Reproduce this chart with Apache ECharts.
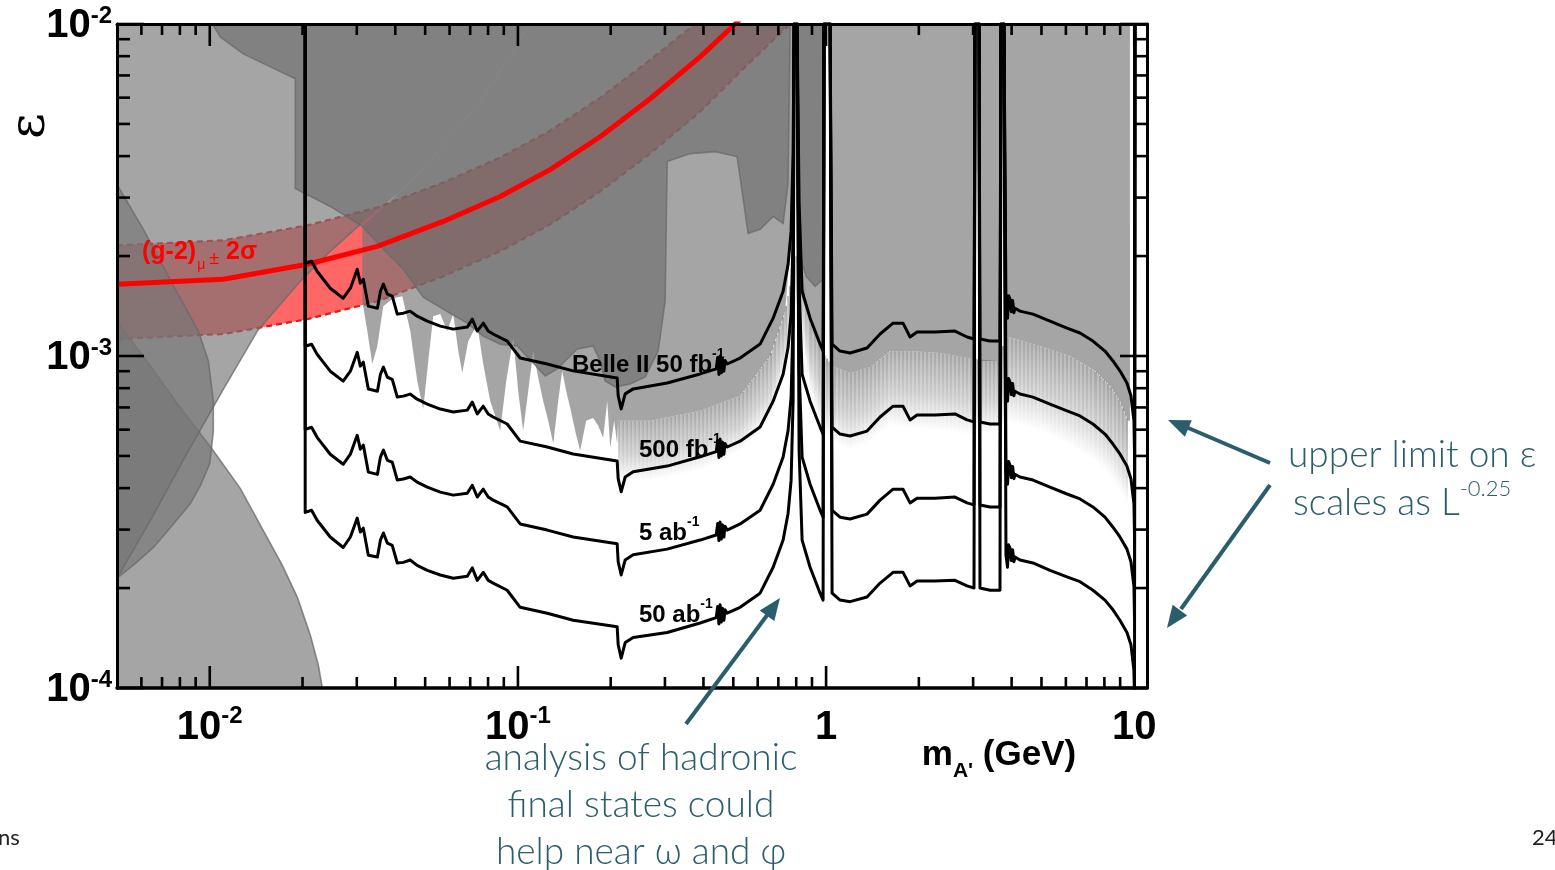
<!DOCTYPE html>
<html>
<head>
<meta charset="utf-8">
<script src="https://cdn.jsdelivr.net/npm/echarts/dist/echarts.min.js"></script>
<style>html,body{margin:0;padding:0;background:#fff}#c{width:1555px;height:870px}</style>
</head>
<body>
<div id="c"></div>
<script>
// ---------- axis ticks ----------
const xMajorTicks = [0.01, 0.1, 1, 10];
const xMinorTicks = [0.006,0.007,0.008,0.009,0.02,0.03,0.04,0.05,0.06,0.07,0.08,0.09,0.2,0.3,0.4,0.5,0.6,0.7,0.8,0.9,2,3,4,5,6,7,8,9];
const yMajorTicks = [1e-4, 1e-3, 1e-2];
const yMinorTicks = [2e-4,3e-4,4e-4,5e-4,6e-4,7e-4,8e-4,9e-4,2e-3,3e-3,4e-3,5e-3,6e-3,7e-3,8e-3,9e-3];

// ---------- Belle II sensitivity curves [mass GeV, epsilon] ----------
const curve50fb = [[0.0204,1e-2],[0.0204,1.902e-3],[0.0214,1.929e-3],[0.0223,1.800e-3],[0.0246,1.600e-3],[0.0271,1.493e-3],[0.0286,1.600e-3],[0.0297,1.763e-3],[0.0301,1.825e-3],[0.0308,1.657e-3],[0.0315,1.703e-3],[0.0327,1.413e-3],[0.0350,1.393e-3],[0.0358,1.567e-3],[0.0366,1.646e-3],[0.0377,1.535e-3],[0.0391,1.514e-3],[0.0406,1.337e-3],[0.0425,1.346e-3],[0.0447,1.365e-3],[0.0471,1.318e-3],[0.0508,1.273e-3],[0.0560,1.230e-3],[0.0617,1.205e-3],[0.0685,1.222e-3],[0.0711,1.291e-3],[0.0738,1.189e-3],[0.0772,1.256e-3],[0.0801,1.189e-3],[0.0831,1.165e-3],[0.0923,1.109e-3],[0.1017,9.86e-4],[0.1245,9.46e-4],[0.1511,9.02e-4],[0.2099,8.59e-4],[0.2115,7.59e-4],[0.2163,6.93e-4],[0.2229,7.69e-4],[0.2366,7.96e-4],[0.3050,8.29e-4],[0.3902,8.83e-4],[0.440,9.15e-4],[0.445,9.9e-4],[0.449,8.8e-4],[0.453,1.0e-3],[0.457,8.9e-4],[0.461,9.8e-4],[0.466,9.0e-4],[0.470,9.7e-4],[0.4775,9.46e-4],[0.5261,9.86e-4],[0.6108,1.086e-3],[0.6733,1.300e-3],[0.7254,1.567e-3],[0.7529,1.889e-3],[0.7700,2.373e-3],[0.7816,4.127e-3],[0.7874,1e-2],[0.8052,1e-2],[0.8173,2.920e-3],[0.8360,1.567e-3],[0.8873,1.300e-3],[0.9561,1.086e-3],[0.9779,1.035e-3],[0.9851,1e-2],[1.0304,1e-2],[1.0459,1.086e-3],[1.110,1.035e-3],[1.196,1.021e-3],[1.358,1.057e-3],[1.497,1.165e-3],[1.650,1.256e-3],[1.777,1.256e-3],[1.873,1.141e-3],[1.973,1.181e-3],[2.258,1.181e-3],[2.620,1.189e-3],[2.867,1.141e-3],[3.020,1.125e-3],[3.043,1e-2],[3.135,1e-2],[3.158,1.125e-3],[3.404,1.109e-3],[3.667,1.109e-3],[3.694,1e-2],[3.778,1e-2],[3.835,1.413e-3],[3.88,1.30e-3],[3.91,1.52e-3],[3.952,1.483e-3],[3.99,1.36e-3],[4.03,1.47e-3],[4.07,1.35e-3],[4.102,1.393e-3],[4.258,1.365e-3],[4.692,1.337e-3],[5.329,1.273e-3],[6.050,1.214e-3],[6.667,1.173e-3],[7.345,1.109e-3],[8.035,1.035e-3],[8.530,9.66e-4],[8.986,9.02e-4],[9.470,8.29e-4],[9.757,7.59e-4],[9.977,6.38e-4],[10.02,5.1e-4],[10.05,1e-2]];
const curve500fb = [[0.0204,1e-2],[0.0204,1.070e-3],[0.0214,1.085e-3],[0.0223,1.012e-3],[0.0246,9.00e-4],[0.0271,8.40e-4],[0.0286,9.00e-4],[0.0297,9.91e-4],[0.0301,1.026e-3],[0.0308,9.32e-4],[0.0315,9.58e-4],[0.0327,7.95e-4],[0.0350,7.83e-4],[0.0358,8.81e-4],[0.0366,9.26e-4],[0.0377,8.63e-4],[0.0391,8.51e-4],[0.0406,7.52e-4],[0.0425,7.57e-4],[0.0447,7.68e-4],[0.0471,7.41e-4],[0.0508,7.16e-4],[0.0560,6.92e-4],[0.0617,6.78e-4],[0.0685,6.87e-4],[0.0711,7.26e-4],[0.0738,6.69e-4],[0.0772,7.06e-4],[0.0801,6.69e-4],[0.0831,6.55e-4],[0.0923,6.24e-4],[0.1017,5.54e-4],[0.1245,5.32e-4],[0.1511,5.07e-4],[0.2099,4.83e-4],[0.2115,4.27e-4],[0.2163,3.90e-4],[0.2229,4.32e-4],[0.2366,4.48e-4],[0.3050,4.66e-4],[0.3902,4.97e-4],[0.440,5.15e-4],[0.445,5.57e-4],[0.449,4.95e-4],[0.453,5.62e-4],[0.457,5.00e-4],[0.461,5.51e-4],[0.466,5.06e-4],[0.470,5.45e-4],[0.4775,5.32e-4],[0.5261,5.54e-4],[0.6108,6.11e-4],[0.6733,7.31e-4],[0.7254,8.81e-4],[0.7529,1.062e-3],[0.7700,1.334e-3],[0.7816,2.321e-3],[0.7874,1e-2],[0.8052,1e-2],[0.8173,1.642e-3],[0.8360,8.81e-4],[0.8873,7.31e-4],[0.9561,6.11e-4],[0.9779,5.82e-4],[0.9851,1e-2],[1.0304,1e-2],[1.0459,6.11e-4],[1.110,5.82e-4],[1.196,5.74e-4],[1.358,5.94e-4],[1.497,6.55e-4],[1.650,7.06e-4],[1.777,7.06e-4],[1.873,6.42e-4],[1.973,6.64e-4],[2.258,6.64e-4],[2.620,6.69e-4],[2.867,6.42e-4],[3.020,6.33e-4],[3.043,1e-2],[3.135,1e-2],[3.158,6.33e-4],[3.404,6.24e-4],[3.667,6.24e-4],[3.694,1e-2],[3.778,1e-2],[3.835,7.95e-4],[3.88,7.31e-4],[3.91,8.55e-4],[3.952,8.34e-4],[3.99,7.65e-4],[4.03,8.27e-4],[4.07,7.59e-4],[4.102,7.83e-4],[4.258,7.68e-4],[4.692,7.52e-4],[5.329,7.16e-4],[6.050,6.83e-4],[6.667,6.60e-4],[7.345,6.24e-4],[8.035,5.82e-4],[8.530,5.43e-4],[8.986,5.07e-4],[9.470,4.66e-4],[9.757,4.27e-4],[9.977,3.59e-4],[10.02,2.87e-4],[10.05,1e-2]];
const curve5ab = [[0.0204,1e-2],[0.0204,6.01e-4],[0.0214,6.10e-4],[0.0223,5.69e-4],[0.0246,5.06e-4],[0.0271,4.72e-4],[0.0286,5.06e-4],[0.0297,5.58e-4],[0.0301,5.77e-4],[0.0308,5.24e-4],[0.0315,5.39e-4],[0.0327,4.47e-4],[0.0350,4.40e-4],[0.0358,4.96e-4],[0.0366,5.21e-4],[0.0377,4.85e-4],[0.0391,4.79e-4],[0.0406,4.23e-4],[0.0425,4.26e-4],[0.0447,4.32e-4],[0.0471,4.17e-4],[0.0508,4.03e-4],[0.0560,3.89e-4],[0.0617,3.81e-4],[0.0685,3.86e-4],[0.0711,4.08e-4],[0.0738,3.76e-4],[0.0772,3.97e-4],[0.0801,3.76e-4],[0.0831,3.68e-4],[0.0923,3.51e-4],[0.1017,3.12e-4],[0.1245,2.99e-4],[0.1511,2.85e-4],[0.2099,2.72e-4],[0.2115,2.40e-4],[0.2163,2.19e-4],[0.2229,2.43e-4],[0.2366,2.52e-4],[0.3050,2.62e-4],[0.3902,2.79e-4],[0.440,2.89e-4],[0.445,3.13e-4],[0.449,2.78e-4],[0.453,3.16e-4],[0.457,2.81e-4],[0.461,3.10e-4],[0.466,2.85e-4],[0.470,3.07e-4],[0.4775,2.99e-4],[0.5261,3.12e-4],[0.6108,3.43e-4],[0.6733,4.11e-4],[0.7254,4.96e-4],[0.7529,5.97e-4],[0.7700,7.50e-4],[0.7816,1.305e-3],[0.7874,1e-2],[0.8052,1e-2],[0.8173,9.23e-4],[0.8360,4.96e-4],[0.8873,4.11e-4],[0.9561,3.43e-4],[0.9779,3.27e-4],[0.9851,1e-2],[1.0304,1e-2],[1.0459,3.43e-4],[1.110,3.27e-4],[1.196,3.23e-4],[1.358,3.34e-4],[1.497,3.68e-4],[1.650,3.97e-4],[1.777,3.97e-4],[1.873,3.61e-4],[1.973,3.73e-4],[2.258,3.73e-4],[2.620,3.76e-4],[2.867,3.61e-4],[3.020,3.56e-4],[3.043,1e-2],[3.135,1e-2],[3.158,3.56e-4],[3.404,3.51e-4],[3.667,3.51e-4],[3.694,1e-2],[3.778,1e-2],[3.835,4.47e-4],[3.88,4.11e-4],[3.91,4.81e-4],[3.952,4.69e-4],[3.99,4.30e-4],[4.03,4.65e-4],[4.07,4.27e-4],[4.102,4.40e-4],[4.258,4.32e-4],[4.692,4.23e-4],[5.329,4.03e-4],[6.050,3.84e-4],[6.667,3.71e-4],[7.345,3.51e-4],[8.035,3.27e-4],[8.530,3.05e-4],[8.986,2.85e-4],[9.470,2.62e-4],[9.757,2.40e-4],[9.977,2.02e-4],[10.02,1.61e-4],[10.05,1e-2]];
const curve50ab = [[0.0204,1e-2],[0.0204,3.38e-4],[0.0214,3.43e-4],[0.0223,3.20e-4],[0.0246,2.85e-4],[0.0271,2.65e-4],[0.0286,2.85e-4],[0.0297,3.14e-4],[0.0301,3.25e-4],[0.0308,2.95e-4],[0.0315,3.03e-4],[0.0327,2.51e-4],[0.0350,2.48e-4],[0.0358,2.79e-4],[0.0366,2.93e-4],[0.0377,2.73e-4],[0.0391,2.69e-4],[0.0406,2.38e-4],[0.0425,2.39e-4],[0.0447,2.43e-4],[0.0471,2.34e-4],[0.0508,2.26e-4],[0.0560,2.19e-4],[0.0617,2.14e-4],[0.0685,2.17e-4],[0.0711,2.30e-4],[0.0738,2.11e-4],[0.0772,2.23e-4],[0.0801,2.11e-4],[0.0831,2.07e-4],[0.0923,1.97e-4],[0.1017,1.75e-4],[0.1245,1.68e-4],[0.1511,1.60e-4],[0.2099,1.53e-4],[0.2115,1.35e-4],[0.2163,1.23e-4],[0.2229,1.37e-4],[0.2366,1.42e-4],[0.3050,1.47e-4],[0.3902,1.57e-4],[0.440,1.63e-4],[0.445,1.76e-4],[0.449,1.56e-4],[0.453,1.78e-4],[0.457,1.58e-4],[0.461,1.74e-4],[0.466,1.60e-4],[0.470,1.72e-4],[0.4775,1.68e-4],[0.5261,1.75e-4],[0.6108,1.93e-4],[0.6733,2.31e-4],[0.7254,2.79e-4],[0.7529,3.36e-4],[0.7700,4.22e-4],[0.7816,7.34e-4],[0.7874,1e-2],[0.8052,1e-2],[0.8173,5.19e-4],[0.8360,2.79e-4],[0.8873,2.31e-4],[0.9561,1.93e-4],[0.9779,1.84e-4],[0.9851,1e-2],[1.0304,1e-2],[1.0459,1.93e-4],[1.110,1.84e-4],[1.196,1.82e-4],[1.358,1.88e-4],[1.497,2.07e-4],[1.650,2.23e-4],[1.777,2.23e-4],[1.873,2.03e-4],[1.973,2.10e-4],[2.258,2.10e-4],[2.620,2.11e-4],[2.867,2.03e-4],[3.020,2.00e-4],[3.043,1e-2],[3.135,1e-2],[3.158,2.00e-4],[3.404,1.97e-4],[3.667,1.97e-4],[3.694,1e-2],[3.778,1e-2],[3.835,2.51e-4],[3.88,2.31e-4],[3.91,2.70e-4],[3.952,2.64e-4],[3.99,2.42e-4],[4.03,2.61e-4],[4.07,2.40e-4],[4.102,2.48e-4],[4.258,2.43e-4],[4.692,2.38e-4],[5.329,2.26e-4],[6.050,2.16e-4],[6.667,2.09e-4],[7.345,1.97e-4],[8.035,1.84e-4],[8.530,1.72e-4],[8.986,1.60e-4],[9.470,1.47e-4],[9.757,1.35e-4],[9.977,1.13e-4],[10.02,0.95e-4],[10.05,1e-2]];

// ---------- (g-2)_mu +- 2 sigma band ----------
const bandCenter = [[0.005,1.645e-3],[0.01107,1.703e-3],[0.02073,1.889e-3],[0.03497,2.140e-3],[0.05724,2.543e-3],[0.08761,3.022e-3],[0.1272,3.643e-3],[0.1849,4.576e-3],[0.2686,5.953e-3],[0.3902,7.963e-3],[0.5069,1e-2],[0.5462,1.072e-2]];
const bandUpper = [[0.005,2.154e-3],[0.01107,2.230e-3],[0.02073,2.474e-3],[0.03497,2.802e-3],[0.05724,3.331e-3],[0.08761,3.960e-3],[0.1272,4.773e-3],[0.1849,5.994e-3],[0.2686,7.796e-3],[0.3759,1e-2]];
const bandLower = [[0.005,1.125e-3],[0.01107,1.165e-3],[0.02073,1.291e-3],[0.03497,1.462e-3],[0.05724,1.738e-3],[0.08761,2.067e-3],[0.1272,2.491e-3],[0.1849,3.130e-3],[0.2686,4.071e-3],[0.3902,5.441e-3],[0.5462,7.429e-3],[0.7642,1e-2]];

// ---------- excluded regions (boundary polygons) ----------
const regionA = [[0.005,1.273e-3],[0.006418,9.33e-4],[0.008030,6.98e-4],[0.01,5.365e-4],[0.01257,3.987e-4],[0.01492,2.981e-4],[0.01720,2.341e-4],[0.01924,1.876e-4],[0.02120,1.443e-4],[0.02251,1.172e-4],[0.02318,1e-4],[0.005,1e-4]];
const regionB = [[0.005,2.139e-4],[0.006418,3.196e-4],[0.008460,5.113e-4],[0.01099,7.849e-4],[0.01427,1.189e-3],[0.01967,1.680e-3],[0.0246,2.067e-3],[0.0308,2.491e-3],[0.04151,3.130e-3],[0.0482,3.593e-3],[0.0755,5.831e-3],[0.1096,1e-2],[0.005,1e-2]];
const regionC = [[0.005,3.285e-3],[0.006089,2.406e-3],[0.007852,1.546e-3],[0.009183,1.189e-3],[0.009897,9.66e-4],[0.01027,7.32e-4],[0.01027,5.95e-4],[0.01,4.74e-4],[0.009322,4.07e-4],[0.008651,3.593e-4],[0.007451,3.044e-4],[0.006564,2.651e-4],[0.005737,2.373e-4],[0.005,2.139e-4]];
const regionTop = [[0.01020,1e-2],[0.01082,9.140e-3],[0.01285,8.128e-3],[0.01573,7.429e-3],[0.01895,6.837e-3],[0.01895,3.196e-3],[0.0246,2.822e-3],[0.03126,2.457e-3],[0.03712,2.067e-3],[0.04246,1.825e-3],[0.04929,1.504e-3],[0.05724,1.384e-3],[0.06847,1.256e-3],[0.07717,1.148e-3],[0.08761,1.086e-3],[0.09948,1.072e-3],[0.1121,9.53e-4],[0.1226,8.71e-4],[0.1341,9.14e-4],[0.1557,1.050e-3],[0.1754,1.072e-3],[0.1849,9.66e-4],[0.1919,8.41e-4],[0.2068,8.07e-4],[0.2313,8.24e-4],[0.2588,8.65e-4],[0.2851,1.035e-3],[0.3004,1.462e-3],[0.3050,3.851e-3],[0.3622,4.071e-3],[0.4365,4.127e-3],[0.5144,3.987e-3],[0.5340,3.130e-3],[0.5584,2.341e-3],[0.6108,2.406e-3],[0.6733,2.633e-3],[0.7254,2.508e-3],[0.7529,3.308e-3],[0.7642,1e-2]];
const regionOmegaPhi = [[0.8052,1e-2],[0.8052,2.920e-3],[0.8235,1.997e-3],[0.8615,1.738e-3],[0.9211,1.622e-3],[0.9779,1.703e-3],[0.9779,1e-2]];
const regionBaBar = [[0.1096,1e-2],[0.0755,5.831e-3],[0.0482,3.593e-3],[0.04151,3.130e-3],[0.03126,2.457e-3],[0.03126,1.462e-3],[0.03245,1.189e-3],[0.03369,9.46e-4],[0.03497,1.072e-3],[0.03657,1.413e-3],[0.03940,1.493e-3],[0.04214,1.514e-3],[0.04474,1.189e-3],[0.04713,8.41e-4],[0.04929,6.93e-4],[0.05117,9.66e-4],[0.05312,1.318e-3],[0.05598,1.337e-3],[0.05898,1.189e-3],[0.06166,1.337e-3],[0.06405,1.035e-3],[0.06598,8.89e-4],[0.06901,1.109e-3],[0.07379,1.247e-3],[0.07717,9.46e-4],[0.08130,7.32e-4],[0.08761,5.95e-4],[0.09164,8.41e-4],[0.09656,1.133e-3],[0.1002,7.85e-4],[0.1040,5.95e-4],[0.1080,7.85e-4],[0.1121,1.035e-3],[0.1164,8.59e-4],[0.1208,7.32e-4],[0.1254,6.38e-4],[0.1302,5.44e-4],[0.1351,7.32e-4],[0.1392,9.02e-4],[0.1434,7.85e-4],[0.1478,6.98e-4],[0.1534,5.95e-4],[0.1592,5.18e-4],[0.1665,6.38e-4],[0.1754,6.51e-4],[0.1822,6.16e-4],[0.1891,5.67e-4],[0.1949,7.32e-4],[0.1993,5.29e-4],[0.2053,6.38e-4],[0.2099,5.44e-4],[0.2115,6.38e-4],[0.2686,6.38e-4],[0.3902,6.84e-4],[0.5261,7.59e-4],[0.6581,1.0e-3],[0.7362,1.365e-3],[0.7642,2.067e-3],[0.7816,2.5e-3],[0.7874,1e-2],[0.8052,1e-2],[0.8235,1.567e-3],[0.8873,1.273e-3],[0.9706,1.035e-3],[0.9851,1e-2],[1.0304,1e-2],[1.0459,9.33e-4],[1.196,8.89e-4],[1.389,9.27e-4],[1.613,1.035e-3],[1.873,1.035e-3],[2.343,1.021e-3],[3.020,9.79e-4],[3.043,1e-2],[3.135,1e-2],[3.158,9.66e-4],[3.667,9.66e-4],[3.694,1e-2],[3.778,1e-2],[3.807,1.148e-3],[4.945,1.072e-3],[6.186,1.0e-3],[7.457,9.02e-4],[8.342,8.13e-4],[8.986,7.32e-4],[9.541,6.38e-4],[9.683,6.38e-4],[9.683,1e-2]];
// fine-structure (spiky) edge of the BaBar region: solid edge and spike tips
const fadeM   = [0.2115,0.2686,0.3902,0.5261,0.6581,0.7362,0.8052,0.8873,0.9706,1.0459,1.196,1.389,1.613,1.873,2.343,3.043,3.667,3.807,4.945,6.186,7.457,8.342,8.986,9.541];
const fadeTop = [6.38e-4,6.38e-4,6.84e-4,7.59e-4,1.0e-3,1.365e-3,2.067e-3,1.273e-3,1.035e-3,9.33e-4,8.89e-4,9.27e-4,1.035e-3,1.035e-3,1.021e-3,9.79e-4,9.66e-4,1.148e-3,1.072e-3,1.0e-3,9.02e-4,8.13e-4,7.32e-4,6.38e-4];
const fadeBot = [4.21e-4,4.21e-4,4.52e-4,5.18e-4,6.38e-4,9.02e-4,1.462e-3,7.85e-4,5.95e-4,5.55e-4,5.18e-4,5.55e-4,6.16e-4,6.04e-4,5.95e-4,5.75e-4,5.95e-4,6.38e-4,5.95e-4,5.37e-4,4.83e-4,4.36e-4,3.93e-4,3.54e-4];

// ---------- chart ----------
const X_MIN = 0.005, X_MAX = 11, Y_MIN = 1e-4, Y_MAX = 1e-2;
const FONT = '"Liberation Sans", Helvetica, Arial, sans-serif';
const LIGHT = 'Lato, "Open Sans", "Liberation Sans", sans-serif';
const TEAL = '#2b5e6c';
const GRAY = 'rgba(117,117,117,0.65)';
const DARK = 'rgba(105,105,105,0.6)';
const GRAY_EDGE = 'rgba(105,105,105,0.75)';

const chart = echarts.init(document.getElementById('c'), null, {renderer: 'canvas'});

function powLabel(v) {
  const l = Math.log10(v), e = Math.round(l);
  if (Math.abs(l - e) > 1e-6) return '';
  if (e === 0) return '{b|1}';
  if (e === 1) return '{b|10}';
  return '{b|10}{s|' + e + '}';
}
const labelRich = {
  b: {fontFamily: FONT, fontWeight: 'bold', fontSize: 40, lineHeight: 44, verticalAlign: 'bottom', color: '#000'},
  s: {fontFamily: FONT, fontWeight: 'bold', fontSize: 24, lineHeight: 24, verticalAlign: 'top', color: '#000'}
};
const labelRichY = {
  b: {fontFamily: FONT, fontWeight: 'bold', fontSize: 40, lineHeight: 44, verticalAlign: 'bottom', color: '#000', padding: [6, 0, 0, 0]},
  s: {fontFamily: FONT, fontWeight: 'bold', fontSize: 24, lineHeight: 24, verticalAlign: 'top', color: '#000', padding: [2, 0, 0, 0]}
};

function polySeries(pts, fill, stroke, z) {
  return {
    type: 'custom', coordinateSystem: 'cartesian2d', silent: true, z: z,
    data: [pts[0]],
    renderItem: function (params, api) {
      return {type: 'polygon', shape: {points: pts.map(p => api.coord(p))},
        style: {fill: fill, stroke: stroke || null, lineWidth: stroke ? 1.6 : 0}};
    }
  };
}
function tickSeries(vals, isX, len) {
  return {
    type: 'custom', coordinateSystem: 'cartesian2d', silent: true, z: 9,
    data: vals.map(v => isX ? [v, 1e-3] : [1, v]),
    renderItem: function (params, api) {
      const v = api.value(isX ? 0 : 1);
      const st = {stroke: '#000', lineWidth: 2.6};
      if (isX) {
        const b = api.coord([v, Y_MIN]), t = api.coord([v, Y_MAX]);
        return {type: 'group', children: [
          {type: 'line', shape: {x1: b[0], y1: b[1], x2: b[0], y2: b[1] - len}, style: st},
          {type: 'line', shape: {x1: t[0], y1: t[1], x2: t[0], y2: t[1] + len}, style: st}]};
      }
      const l = api.coord([X_MIN, v]), r = api.coord([X_MAX, v]);
      return {type: 'group', children: [
        {type: 'line', shape: {x1: l[0], y1: l[1], x2: l[0] + len, y2: l[1]}, style: st},
        {type: 'line', shape: {x1: r[0], y1: r[1], x2: r[0] - len, y2: r[1]}, style: st}]};
    }
  };
}
function curveSeries(data) {
  return {type: 'line', data: data, showSymbol: false, symbol: 'none', z: 7, silent: true,
    lineStyle: {color: '#000', width: 3, join: 'round'}};
}
function supText(x, y, main, sup, size) {
  return {type: 'text', z: 100, x: x, y: y,
    style: {text: '{a|' + main + '}{s|' + sup + '}', verticalAlign: 'middle',
      rich: {a: {fontFamily: FONT, fontWeight: 'bold', fontSize: size, lineHeight: size + 6, verticalAlign: 'bottom', fill: '#000'},
             s: {fontFamily: FONT, fontWeight: 'bold', fontSize: Math.round(size * 0.6), lineHeight: Math.round(size * 0.6), verticalAlign: 'top', fill: '#000'}}}};
}

const fadeData = fadeM.map((m, i) => [m, fadeTop[i], fadeBot[i]]);

const option = {
  animation: false,
  backgroundColor: '#fff',
  grid: {left: 117, right: 408, top: 22, bottom: 182, containLabel: false},
  xAxis: [
    {type: 'log', logBase: 10, min: X_MIN, max: X_MAX, position: 'bottom', z: 10,
     axisLine: {show: true, onZero: false, lineStyle: {color: '#000', width: 3.5}},
     axisTick: {show: false}, splitLine: {show: false}, minorTick: {show: false},
     axisLabel: {formatter: powLabel, rich: labelRich, margin: 16}},
    {type: 'log', logBase: 10, min: X_MIN, max: X_MAX, position: 'top', z: 10,
     axisLine: {show: true, onZero: false, lineStyle: {color: '#000', width: 3}},
     axisTick: {show: false}, splitLine: {show: false}, axisLabel: {show: false}}
  ],
  yAxis: [
    {type: 'log', logBase: 10, min: Y_MIN, max: Y_MAX, position: 'left', z: 10,
     axisLine: {show: true, onZero: false, lineStyle: {color: '#000', width: 3}},
     axisTick: {show: false}, splitLine: {show: false}, minorTick: {show: false},
     axisLabel: {formatter: powLabel, rich: labelRichY, margin: 5}},
    {type: 'log', logBase: 10, min: Y_MIN, max: Y_MAX, position: 'right', z: 10,
     axisLine: {show: true, onZero: false, lineStyle: {color: '#000', width: 3}},
     axisTick: {show: false}, splitLine: {show: false}, axisLabel: {show: false}}
  ],
  series: [
    // (g-2) band fill, beneath the exclusion regions
    polySeries(bandUpper.concat([[0.7642, 1e-2]], bandLower.slice().reverse()), 'rgba(255,0,0,0.6)', null, 1),
    {type: 'line', data: bandUpper, showSymbol: false, z: 1, silent: true,
     lineStyle: {color: '#e81818', width: 2.2, type: [6, 4]}},
    {type: 'line', data: bandLower, showSymbol: false, z: 1, silent: true,
     lineStyle: {color: '#e81818', width: 2.2, type: [6, 4]}},
    // exclusion regions
    polySeries(regionA, GRAY, GRAY_EDGE, 2),
    polySeries(regionB, GRAY, null, 2),
    {type: 'line', data: regionB.slice(0, 8), showSymbol: false, z: 2, silent: true,
     lineStyle: {color: GRAY_EDGE, width: 1.6}},
    polySeries(regionC, GRAY, GRAY_EDGE, 2),
    polySeries(regionBaBar, GRAY, null, 2),
    polySeries(regionTop, DARK, GRAY_EDGE, 3),
    polySeries(regionOmegaPhi, DARK, GRAY_EDGE, 3),
    {
      type: 'custom', coordinateSystem: 'cartesian2d', silent: true, z: 2,
      data: fadeData,
      renderItem: function (params, api) {
        const i = params.dataIndex;
        if (i >= fadeData.length - 1) return null;
        const a = fadeData[i], b = fadeData[i + 1];
        const t1 = api.coord([a[0], a[1]]), t2 = api.coord([b[0], b[1]]);
        const b1 = api.coord([a[0], a[2]]), b2 = api.coord([b[0], b[2]]);
        const x0 = t1[0], x1 = t2[0], w = 2;
        const children = [];
        for (let x = x0; x < x1 - 0.01; x += w) {
          const ww = Math.min(w, x1 - x);
          const f = (x + ww / 2 - x0) / (x1 - x0);
          const yt = t1[1] + (t2[1] - t1[1]) * f, yb = b1[1] + (b2[1] - b1[1]) * f;
          const k = Math.round(x / w) % 2;
          const a0 = k ? 0.66 : 0.5;
          children.push({type: 'rect', shape: {x: x, y: yt, width: ww, height: yb - yt},
            style: {fill: new echarts.graphic.LinearGradient(0, yt, 0, yb, [
              {offset: 0, color: 'rgba(117,117,117,' + a0 + ')'},
              {offset: 0.55, color: 'rgba(117,117,117,' + (a0 * 0.55) + ')'},
              {offset: 1, color: 'rgba(117,117,117,0)'}], true), lineWidth: 0}});
        }
        return {type: 'group', children: children};
      }
    },
    // central (g-2) line
    {type: 'line', data: bandCenter, showSymbol: false, z: 5, silent: true,
     lineStyle: {color: '#ff0000', width: 5}},
    // Belle II curves
    curveSeries(curve50fb), curveSeries(curve500fb), curveSeries(curve5ab), curveSeries(curve50ab),
    // ticks
    tickSeries(xMajorTicks, true, 22), tickSeries(xMinorTicks, true, 11),
    tickSeries(yMajorTicks, false, 27), tickSeries(yMinorTicks, false, 13)
  ],
  graphic: [
    {type: 'text', z: 100, x: 31, y: 126, rotation: Math.PI / 2,
     style: {text: 'ε', font: '50px "DejaVu Serif", "Liberation Serif", serif', fill: '#000', align: 'center', verticalAlign: 'middle'}},
    {type: 'text', z: 100, x: 999, y: 760,
     style: {text: '{b|m}{sub|A\'}{b| (GeV)}', align: 'center', verticalAlign: 'middle',
       rich: {b: {fontFamily: FONT, fontWeight: 'bold', fontSize: 35, lineHeight: 44, verticalAlign: 'top', fill: '#000'},
              sub: {fontFamily: FONT, fontWeight: 'bold', fontSize: 21, lineHeight: 44, verticalAlign: 'bottom', fill: '#000'}}}},
    {type: 'text', z: 100, x: 142, y: 256,
     style: {text: '{a|(g-2)}{sub|μ}{pm|±}{a| 2σ}', verticalAlign: 'middle',
       rich: {a: {fontFamily: FONT, fontWeight: 'bold', fontSize: 25, lineHeight: 32, verticalAlign: 'top', fill: '#ff0000'},
              sub: {fontFamily: FONT, fontSize: 14, lineHeight: 32, verticalAlign: 'bottom', fill: '#ff0000', padding: [0, 4, 0, 1]},
              pm: {fontFamily: FONT, fontSize: 18, lineHeight: 32, verticalAlign: 'middle', fill: '#ff0000', padding: [6, 0, 0, 0]}}}},
    supText(572, 362, 'Belle II 50 fb', '-1', 24),
    supText(639, 447, '500 fb', '-1', 24),
    supText(639, 530, '5 ab', '-1', 24),
    supText(639, 612, '50 ab', '-1', 24),
    // annotations
    {type: 'text', z: 100, x: 1288, y: 455,
     style: {text: 'upper limit on ε', font: '300 37px ' + LIGHT, fill: TEAL, verticalAlign: 'middle'}},
    {type: 'text', z: 100, x: 1293, y: 500,
     style: {text: '{a|scales as L}{s|-0.25}', verticalAlign: 'middle',
       rich: {a: {fontFamily: LIGHT, fontWeight: 300, fontSize: 37, lineHeight: 44, verticalAlign: 'bottom', fill: TEAL},
              s: {fontFamily: LIGHT, fontWeight: 300, fontSize: 22, lineHeight: 22, verticalAlign: 'top', fill: TEAL}}}},
    {type: 'text', z: 100, x: 641, y: 758,
     style: {text: 'analysis of hadronic', font: '300 37px ' + LIGHT, fill: TEAL, align: 'center', verticalAlign: 'middle'}},
    {type: 'text', z: 100, x: 641, y: 805,
     style: {text: 'final states could', font: '300 37px ' + LIGHT, fill: TEAL, align: 'center', verticalAlign: 'middle'}},
    {type: 'text', z: 100, x: 641, y: 852,
     style: {text: 'help near ω and φ', font: '300 37px ' + LIGHT, fill: TEAL, align: 'center', verticalAlign: 'middle'}},
    // arrows
    {type: 'line', z: 100, shape: {x1: 1270, y1: 463, x2: 1186, y2: 427}, style: {stroke: TEAL, lineWidth: 4}},
    {type: 'polygon', z: 100, shape: {points: [[1168, 420], [1191.8, 420.2], [1184.8, 436.8]]}, style: {fill: TEAL}},
    {type: 'line', z: 100, shape: {x1: 1270, y1: 485, x2: 1181, y2: 609}, style: {stroke: TEAL, lineWidth: 4}},
    {type: 'polygon', z: 100, shape: {points: [[1167, 628], [1187.2, 615.4], [1172.6, 604.8]]}, style: {fill: TEAL}},
    {type: 'line', z: 100, shape: {x1: 686, y1: 724, x2: 768, y2: 614}, style: {stroke: TEAL, lineWidth: 4}},
    {type: 'polygon', z: 100, shape: {points: [[780, 598], [774.3, 621], [759.7, 610.4]]}, style: {fill: TEAL}},
    // slide footer fragments
    {type: 'text', z: 100, x: -2, y: 838, style: {text: 'ns', font: '22px ' + LIGHT, fill: '#222', verticalAlign: 'middle'}},
    {type: 'text', z: 100, x: 1532, y: 838, style: {text: '24', font: '22px ' + LIGHT, fill: '#222', verticalAlign: 'middle'}}
  ]
};
chart.setOption(option);
</script>
</body>
</html>
